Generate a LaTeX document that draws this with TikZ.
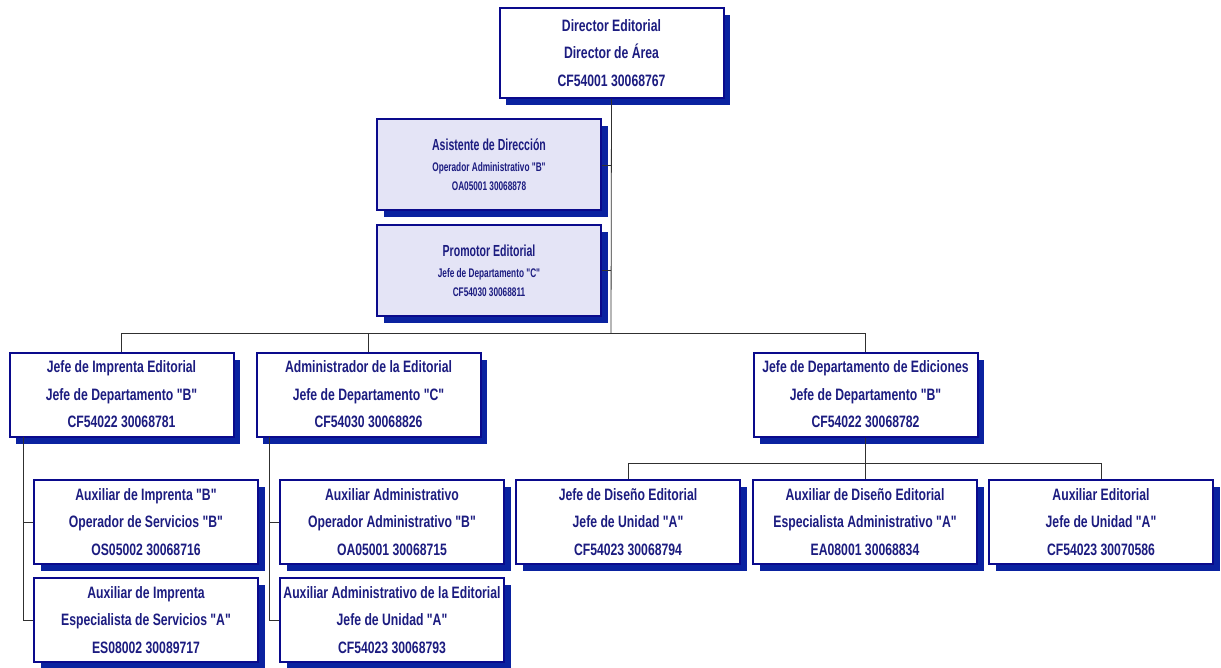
\documentclass[tikz,border=0pt]{standalone}
\usepackage{fontspec}
\newfontfamily\boxfont[FakeStretch=0.74]{Liberation Sans}
\newfontfamily\stafffont[FakeStretch=0.66]{Liberation Sans}
\usetikzlibrary{shadows}
\definecolor{navy}{HTML}{1C1C80}
\definecolor{bordernavy}{HTML}{0A0A8C}
\definecolor{shblue}{HTML}{0A22A0}
\definecolor{lav}{HTML}{E4E4F6}
\definecolor{conn}{HTML}{303030}
\newcommand{\stitle}{\fontsize{16}{21}\selectfont}
\newcommand{\sline}{\fontsize{12.5}{19}\selectfont}
\tikzset{
  orgbox/.style={draw=bordernavy, line width=2pt, fill=white, text=navy,
    minimum width=224pt, minimum height=84pt, inner sep=0pt, align=center,
    font=\boxfont\bfseries\fontsize{16.5}{27.5}\selectfont,
    drop shadow={shadow xshift=6.5pt, shadow yshift=-7pt, fill=shblue, opacity=1}},
  staffbox/.style={orgbox, fill=lav, minimum height=91pt, font=\stafffont\bfseries\fontsize{12.5}{19}\selectfont},
  conline/.style={draw=conn, line width=0.8pt}
}
\begin{document}
\begin{tikzpicture}[x=1pt,y=-1pt]
\useasboundingbox (0,0) rectangle (1221,668);
% top
\node[orgbox, minimum height=90pt] (dir) at (611.5,53) {Director Editorial\\Director de Área\\CF54001 30068767};
\node[staffbox] (asi) at (489,165) {\stitle Asistente de Dirección\\[2pt]\sline Operador Administrativo "B"\\\sline OA05001 30068878};
\node[staffbox] (pro) at (489,270.5) {\stitle Promotor Editorial\\[2pt]\sline Jefe de Departamento "C"\\\sline CF54030 30068811};
% second level
\node[orgbox] (jimp) at (121.5,394.5) {Jefe de Imprenta Editorial\\Jefe de Departamento "B"\\CF54022 30068781};
\node[orgbox] (adm) at (368.5,394.5) {Administrador de la Editorial\\Jefe de Departamento "C"\\CF54030 30068826};
\node[orgbox] (jed) at (865.5,394.5) {Jefe de Departamento de Ediciones\\Jefe de Departamento "B"\\CF54022 30068782};
% third level
\node[orgbox] (aux1) at (146,522) {Auxiliar de Imprenta "B"\\Operador de Servicios "B"\\OS05002 30068716};
\node[orgbox] (aux2) at (146,620) {Auxiliar de Imprenta\\Especialista de Servicios "A"\\ES08002 30089717};
\node[orgbox] (aa1) at (392,522) {Auxiliar Administrativo\\Operador Administrativo "B"\\OA05001 30068715};
\node[orgbox] (aa2) at (392,620) {Auxiliar Administrativo de la Editorial\\Jefe de Unidad "A"\\CF54023 30068793};
\node[orgbox] (jd) at (628,522) {Jefe de Diseño Editorial\\Jefe de Unidad "A"\\CF54023 30068794};
\node[orgbox] (ad) at (865,522) {Auxiliar de Diseño Editorial\\Especialista Administrativo "A"\\EA08001 30068834};
\node[orgbox] (ae) at (1101,522) {Auxiliar Editorial\\Jefe de Unidad "A"\\CF54023 30070586};
% coordinates
\coordinate (bus) at (611,333);
\coordinate (jv) at (23,437);
\coordinate (jvb) at (23,621);
\coordinate (av) at (269,437);
\coordinate (avb) at (269,621);
\coordinate (ebus) at (865.5,463);
% connectors
\draw[conline] (dir.south) -- (bus);
\draw[conline] (asi.east) -- (asi.east -| bus);
\draw[conline] (pro.east) -- (pro.east -| bus);
\draw[conline] (jimp.north) -- (jimp.north |- bus) -- (jed.north |- bus) -- (jed.north);
\draw[conline] (adm.north) -- (adm.north |- bus);
\draw[conline] (jv) -- (jvb);
\draw[conline] (aux1.west) -- (aux1.west -| jv);
\draw[conline] (aux2.west) -- (aux2.west -| jv);
\draw[conline] (av) -- (avb);
\draw[conline] (aa1.west) -- (aa1.west -| av);
\draw[conline] (aa2.west) -- (aa2.west -| av);
\draw[conline] (jed.south) -- (ebus);
\draw[conline] (jd.north) -- (jd.north |- ebus) -- (ae.north |- ebus) -- (ae.north);
\draw[conline] (ad.north) -- (ad.north |- ebus);
\end{tikzpicture}
\end{document}
